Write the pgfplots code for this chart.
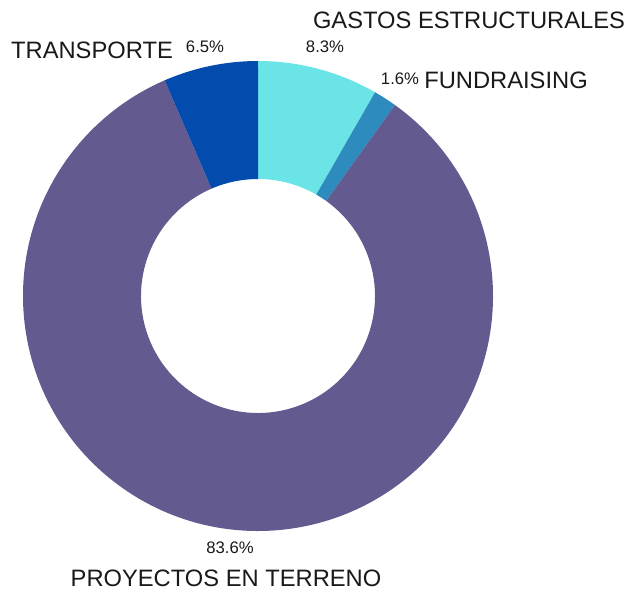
\documentclass[border=0pt]{standalone}
\usepackage{pgfplots}
\pgfplotsset{compat=1.18}
\usepackage{fontspec}
\setmainfont{Liberation Sans}
\definecolor{cGastos}{HTML}{6BE4E8}
\definecolor{cFund}{HTML}{2E8BBD}
\definecolor{cProy}{HTML}{635A8F}
\definecolor{cTrans}{HTML}{034BAC}

% donut slice: #1 start (cumulative %), #2 value (%), #3 colour
\newcommand{\slice}[3]{%
  \fill[#3] (axis cs:{4.7*cos(90-3.6*#1)},{4.7*sin(90-3.6*#1)})
    arc[start angle={90-3.6*#1}, end angle={90-3.6*(#1+#2)}, radius=4.7cm]
    -- (axis cs:{2.34*cos(90-3.6*(#1+#2))},{2.34*sin(90-3.6*(#1+#2))})
    arc[start angle={90-3.6*(#1+#2)}, end angle={90-3.6*#1}, radius=2.34cm]
    -- cycle;}

\begin{document}
\begin{tikzpicture}[
  lbl/.style={font=\fontsize{13.5}{15}\selectfont, text=black!90, inner sep=0pt},
  pct/.style={font=\fontsize{9.5}{11}\selectfont, text=black!90, inner sep=0pt},
]
\begin{axis}[
  x=1cm, y=1cm,
  xmin=-5.16, xmax=7.48, ymin=-5.92, ymax=5.92,
  hide axis, clip=false,
]
% values: 8.3, 1.6, 83.6, 6.5 (clockwise from top)
\slice{0}{8.3}{cGastos}
\slice{8.3}{1.6}{cFund}
\slice{9.9}{83.6}{cProy}
\slice{93.5}{6.5}{cTrans}

\node[lbl] at (axis cs:4.22,5.52) {GASTOS ESTRUCTURALES};
\node[pct] at (axis cs:1.34,4.98) {8.3\%};
\node[pct] at (axis cs:2.84,4.34) {1.6\%};
\node[lbl] at (axis cs:4.96,4.32) {FUNDRAISING};
\node[lbl] at (axis cs:-3.32,4.92) {TRANSPORTE};
\node[pct] at (axis cs:-1.06,4.98) {6.5\%};
\node[pct] at (axis cs:-0.56,-5.04) {83.6\%};
\node[lbl] at (axis cs:-0.64,-5.64) {PROYECTOS EN TERRENO};
\end{axis}
\pgfresetboundingbox
\path (current axis.south west) rectangle (current axis.north east);
\end{tikzpicture}
\end{document}
